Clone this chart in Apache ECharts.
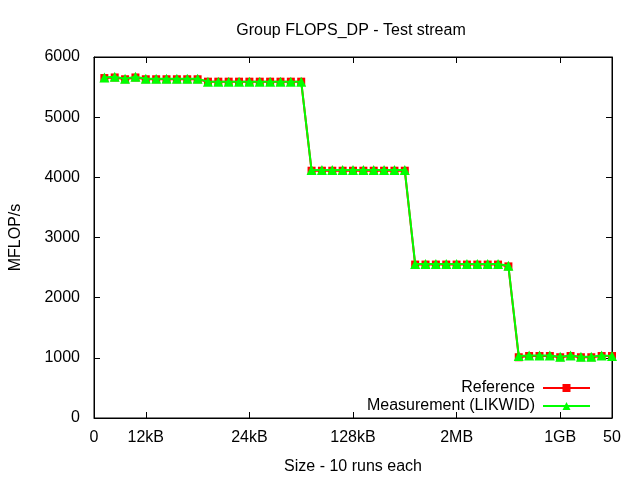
<!DOCTYPE html>
<html><head><meta charset="utf-8">
<script src="https://cdn.jsdelivr.net/npm/echarts@6/dist/echarts.min.js"></script>
<style>html,body{margin:0;padding:0;background:#fff}#c{width:640px;height:480px}</style>
</head><body><div id="c"></div>
<script>
const xValues = [1,2,3,4,5,6,7,8,9,10,11,12,13,14,15,16,17,18,19,20,21,22,23,24,25,26,27,28,29,30,31,32,33,34,35,36,37,38,39,40,41,42,43,44,45,46,47,48,49,50];
const referenceValues = [5650,5660,5630,5660,5630,5630,5630,5630,5630,5630,
  5590,5590,5590,5590,5590,5590,5590,5590,5590,5590,
  4110,4110,4110,4110,4110,4110,4110,4110,4110,4110,
  2550,2550,2550,2550,2550,2550,2550,2550,2550,2520,
  1010,1030,1030,1030,1010,1030,1010,1010,1030,1030];
const measurementValues = [5660,5670,5640,5670,5640,5640,5640,5640,5640,5640,
  5590,5590,5590,5590,5590,5590,5590,5590,5590,5590,
  4120,4120,4120,4120,4120,4120,4120,4120,4120,4120,
  2560,2560,2560,2560,2560,2560,2560,2560,2560,2530,
  1030,1040,1040,1040,1020,1040,1020,1020,1040,1030];
const xTickValues = [0,5,15,25,35,45,50];
const xTickLabels = ['0','12kB','24kB','128kB','2MB','1GB','50'];

const font = 'Liberation Sans, Arial, sans-serif';
const fs = 16;
const chart = echarts.init(document.getElementById('c'));
const pair = (ys) => xValues.map((x,i)=>[x, ys[i]]);
const axisLineStyle = {show:true, onZero:false, lineStyle:{color:'#000', width:1}};
chart.setOption({
  animation:false,
  backgroundColor:'#fff',
  title:{text:'Group FLOPS_DP - Test stream', left:346, top:18, textAlign:'center',
    textStyle:{fontFamily:font, fontSize:fs, fontWeight:'normal', color:'#000'}},
  grid:{left:94, right:28, top:57, bottom:61, show:true, borderColor:'#000', borderWidth:1, backgroundColor:'transparent'},
  legend:{orient:'vertical', right:44, top:375, align:'right', itemWidth:47, itemHeight:10, itemGap:2,
    textStyle:{fontFamily:font, fontSize:fs, color:'#000', padding:[0,3,0,0]},
    data:[{name:'Reference'},{name:'Measurement (LIKWID)'}]},
  xAxis:[{type:'value', min:0, max:50, position:'bottom',
      name:'Size - 10 runs each', nameLocation:'middle', nameGap:41,
      nameTextStyle:{fontFamily:font, fontSize:fs, color:'#000'},
      axisLine:axisLineStyle,
      axisTick:{show:true, inside:true, length:6, customValues:xTickValues, lineStyle:{color:'#000'}},
      axisLabel:{fontFamily:font, fontSize:fs, color:'#000', margin:12, customValues:xTickValues,
        formatter:(v)=>{const i=xTickValues.indexOf(v); return i>=0?xTickLabels[i]:'';}},
      splitLine:{show:false}},
    {type:'value', min:0, max:50, position:'top',
      axisLine:axisLineStyle,
      axisTick:{show:true, inside:true, length:6, customValues:xTickValues, lineStyle:{color:'#000'}},
      axisLabel:{show:false}, splitLine:{show:false}}],
  yAxis:[{type:'value', min:0, max:6000, interval:1000, position:'left',
      name:'MFLOP/s', nameLocation:'middle', nameGap:70, nameRotate:90,
      nameTextStyle:{fontFamily:font, fontSize:fs, color:'#000'},
      axisLine:axisLineStyle,
      axisTick:{show:true, inside:true, length:6, lineStyle:{color:'#000'}},
      axisLabel:{fontFamily:font, fontSize:fs, color:'#000', margin:14, formatter:(v)=>String(v)},
      splitLine:{show:false}},
    {type:'value', min:0, max:6000, interval:1000, position:'right',
      axisLine:axisLineStyle,
      axisTick:{show:true, inside:true, length:6, lineStyle:{color:'#000'}},
      axisLabel:{show:false}, splitLine:{show:false}}],
  series:[
    {name:'Reference', type:'line', data:pair(referenceValues), symbol:'rect', symbolSize:8,
      lineStyle:{color:'#ff0000', width:2}, itemStyle:{color:'#ff0000'}, z:2},
    {name:'Measurement (LIKWID)', type:'line', data:pair(measurementValues), symbol:'triangle', symbolSize:10,
      lineStyle:{color:'#00ff00', width:2}, itemStyle:{color:'#00ff00'}, z:3},
    {name:'mirror', type:'line', xAxisIndex:1, yAxisIndex:1, data:[], silent:true}
  ]
});
</script></body></html>
